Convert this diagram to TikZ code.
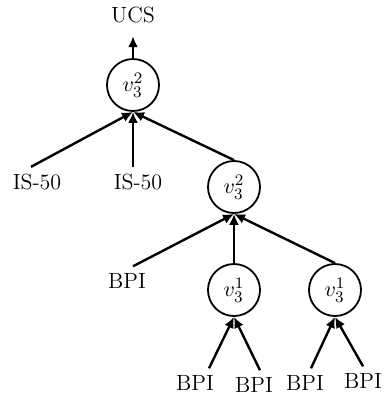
\documentclass[tikz,border=0pt]{standalone}
\usepackage{amsmath}
\usetikzlibrary{arrows.meta, positioning}

\begin{document}
\begin{tikzpicture}[x=0.5pt, y=-0.5pt, ->, >={Latex[length=5.5pt,width=5pt]},
        line width=1.2pt, font=\fontsize{11}{13}\selectfont,
        vert/.style={circle, draw, line width=0.9pt, minimum size=26pt, inner sep=0pt},
        leaf/.style={inner sep=3pt}]
        \useasboundingbox (0,0) rectangle (387,398);

        \node[leaf] (U) at (133,15) {UCS};
        \node[vert] (R) at (133,85) {$v_3^2$};
        \node[leaf] (I1) at (37,182) {IS-50};
        \node[leaf] (I2) at (138,182) {IS-50};
        \node[vert] (M) at (234,187) {$v_3^2$};
        \node[leaf] (P) at (127,281) {BPI};
        \node[vert] (W1) at (234,290) {$v_3^1$};
        \node[vert] (W2) at (335,290) {$v_3^1$};
        \node[leaf] (B1) at (195,383) {BPI};
        \node[leaf] (B2) at (254,385) {BPI};
        \node[leaf] (B3) at (305,383) {BPI};
        \node[leaf] (B4) at (363,381) {BPI};

        \path
            (R) edge[shorten >=3pt] (U)
            ([xshift=-3pt]I1.north) edge (R.south)
            (R.south |- I2.north) edge (R.south)
            (M.north) edge (R.south)
            ([xshift=3pt]P.north) edge (M.south)
            (W1.north) edge (M.south)
            (W2.north) edge (M.south)
            ([xshift=7pt]B1.north) edge (W1.south)
            ([xshift=3pt]B2.north) edge (W1.south)
            ([xshift=3pt]B3.north) edge (W2.south)
            ([xshift=0pt]B4.north) edge (W2.south);
    \end{tikzpicture}
\end{document}
